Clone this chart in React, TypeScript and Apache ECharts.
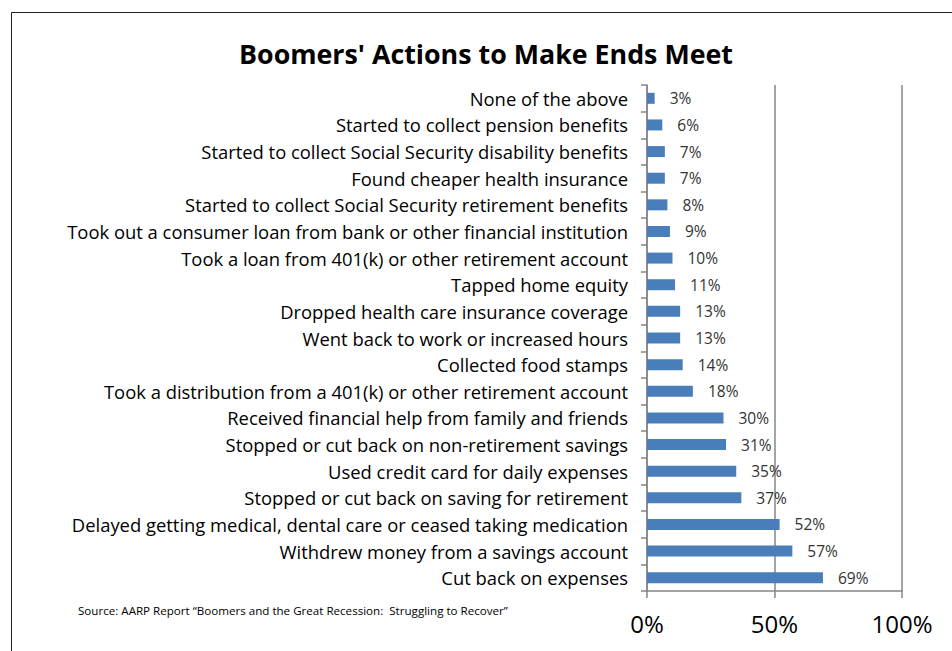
import React, { useEffect, useRef } from "react";
import * as echarts from "echarts";

const categories = [
  "None of the above",
  "Started to collect pension benefits",
  "Started to collect Social Security disability benefits",
  "Found cheaper health insurance",
  "Started to collect Social Security retirement benefits",
  "Took out a consumer loan from bank or other financial institution",
  "Took a loan from 401(k) or other retirement account",
  "Tapped home equity",
  "Dropped health care insurance coverage",
  "Went back to work or increased hours",
  "Collected food stamps",
  "Took a distribution from a 401(k) or other retirement account",
  "Received financial help from family and friends",
  "Stopped or cut back on non-retirement savings",
  "Used credit card for daily expenses",
  "Stopped or cut back on saving for retirement",
  "Delayed getting medical, dental care or ceased taking medication",
  "Withdrew money from a savings account",
  "Cut back on expenses",
];
const values = [3, 6, 7, 7, 8, 9, 10, 11, 13, 13, 14, 18, 30, 31, 35, 37, 52, 57, 69];
const xTicks = [0, 50, 100];

const titleText = "Boomers' Actions to Make Ends Meet";
const sourceText =
  "Source: AARP Report \u201cBoomers and the Great Recession:  Struggling to Recover\u201d";

const FONT = "'Open Sans', 'DejaVu Sans', sans-serif";

export default function App() {
  const ref = useRef<HTMLDivElement>(null);
  useEffect(() => {
    document.body.style.margin = "0";
    const chart = echarts.init(ref.current!, null, { renderer: "svg" });
    chart.setOption({
      animation: false,
      backgroundColor: "#fff",
      grid: { left: 647, right: 50, top: 85, bottom: 60, containLabel: false },
      xAxis: {
        type: "value",
        min: xTicks[0],
        max: xTicks[xTicks.length - 1],
        interval: 50,
        axisLine: { show: true, lineStyle: { color: "#868686", width: 1.5 } },
        axisTick: { show: true, length: 7, lineStyle: { color: "#868686", width: 1.5 } },
        splitLine: { show: true, lineStyle: { color: "#868686", width: 1.5 } },
        axisLabel: {
          formatter: "{value}%",
          fontSize: 24,
          color: "#000",
          fontFamily: FONT,
          margin: 20,
        },
      },
      yAxis: {
        type: "category",
        data: categories,
        inverse: true,
        axisLine: { show: true, lineStyle: { color: "#868686", width: 1.5 } },
        axisTick: { show: true, length: 6, alignWithLabel: false, lineStyle: { color: "#868686", width: 1.5 } },
        axisLabel: {
          fontSize: 18.4,
          color: "#000",
          fontFamily: FONT,
          margin: 19,
        },
      },
      series: [
        {
          type: "bar",
          data: values,
          barWidth: 11,
          itemStyle: { color: "#4A7EBB" },
          label: {
            show: true,
            position: "right",
            distance: 15,
            formatter: "{c}%",
            fontSize: 15.5,
            color: "#333",
            fontFamily: FONT,
          },
        },
      ],
      graphic: [
        {
          type: "rect",
          shape: { x: 11.5, y: 12.5, width: 960, height: 660 },
          style: { fill: "none", stroke: "#222", lineWidth: 1 },
          silent: true,
        },
        {
          type: "text",
          x: 486,
          y: 53,
          style: {
            text: titleText,
            fontSize: 26.8,
            fontWeight: "bold",
            fontFamily: FONT,
            fill: "#000",
            textAlign: "center",
            textVerticalAlign: "middle",
          },
        },
        {
          type: "text",
          x: 78,
          y: 610,
          style: {
            text: sourceText,
            fontSize: 11.6,
            fontFamily: FONT,
            fill: "#000",
            textAlign: "left",
            textVerticalAlign: "middle",
          },
        },
      ],
    });
    return () => chart.dispose();
  }, []);
  return <div ref={ref} style={{ width: 952, height: 651 }} />;
}
